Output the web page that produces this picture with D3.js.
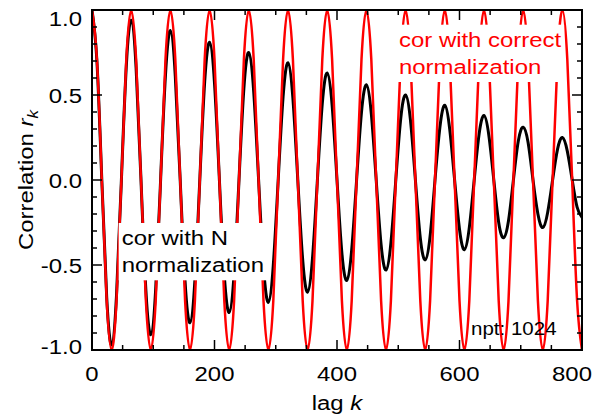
<!DOCTYPE html>
<html>
<head>
<meta charset="utf-8">
<script src="https://cdn.jsdelivr.net/npm/d3@7"></script>
<style>
  body { margin: 0; background: #fff; }
  text { font-family: "Liberation Sans", Arial, sans-serif; }
</style>
</head>
<body>
<div id="chart"></div>
<script>
// lag k (every 8 samples)
var lags = [
  0, 8, 16, 24, 32, 40, 48, 56, 64, 72, 80, 88, 96, 104, 112, 120,
  128, 136, 144, 152, 160, 168, 176, 184, 192, 200, 208, 216, 224, 232, 240, 248,
  256, 264, 272, 280, 288, 296, 304, 312, 320, 328, 336, 344, 352, 360, 368, 376,
  384, 392, 400, 408, 416, 424, 432, 440, 448, 456, 464, 472, 480, 488, 496, 504,
  512, 520, 528, 536, 544, 552, 560, 568, 576, 584, 592, 600, 608, 616, 624, 632,
  640, 648, 656, 664, 672, 680, 688, 696, 704, 712, 720, 728, 736, 744, 752, 760,
  768, 776, 784, 792, 800
]

// correlation, correct normalization (red)
var corCorrect = [
  1, .71, 0, -.71, -1, -.71, 0, .71,
  1, .71, 0, -.71, -1, -.71, 0, .71,
  1, .71, 0, -.71, -1, -.71, 0, .71,
  1, .71, 0, -.71, -1, -.71, 0, .71,
  1, .71, 0, -.71, -1, -.71, 0, .71,
  1, .71, 0, -.71, -1, -.71, 0, .71,
  1, .71, 0, -.71, -1, -.71, 0, .71,
  1, .71, 0, -.71, -1, -.71, 0, .71,
  1, .71, 0, -.71, -1, -.71, 0, .71,
  1, .71, 0, -.71, -1, -.71, 0, .71,
  1, .71, 0, -.71, -1, -.71, 0, .71,
  1, .71, 0, -.71, -1, -.71, 0, .71,
  1, .71, 0, -.71, -1
]

// correlation, N normalization (black)
var corN = [
  1, .70, 0, -.69, -.97, -.68, 0, .67,
  .94, .66, 0, -.65, -.91, -.64, 0, .62,
  .88, .61, 0, -.60, -.84, -.59, 0, .58,
  .81, .57, 0, -.56, -.78, -.55, 0, .54,
  .75, .52, 0, -.51, -.72, -.50, 0, .49,
  .69, .48, 0, -.47, -.66, -.46, 0, .45,
  .63, .44, 0, -.43, -.59, -.41, 0, .40,
  .56, .39, 0, -.38, -.53, -.37, 0, .36,
  .50, .35, 0, -.34, -.47, -.33, 0, .31,
  .44, .30, 0, -.29, -.41, -.28, 0, .27,
  .38, .26, 0, -.25, -.34, -.24, 0, .23,
  .31, .22, 0, -.20, -.28, -.19, 0, .18,
  .25, .17, 0, -.16, -.22
]

var xTicks = [0, 200, 400, 600, 800]
var yTicks = [-1.0, -0.5, 0.0, 0.5, 1.0]

var W = 602, H = 417
var mLeft = 92, mRight = 582, mTop = 10, mBottom = 350
var SX = 1.14   // widen glyphs a bit

var x = d3.scaleLinear().domain([0, 800]).range([mLeft, mRight])
var y = d3.scaleLinear().domain([-1, 1]).range([mBottom, mTop])

var svg = d3.select('#chart').append('svg')
    .attr('width', W).attr('height', H)

svg.append('defs').append('clipPath').attr('id', 'clip')
  .append('rect')
    .attr('x', mLeft).attr('y', mTop)
    .attr('width', mRight - mLeft).attr('height', mBottom - mTop)

function addText(parent, tx, ty, str, size, anchor, rot) {
    var t = parent.append('text')
        .attr('transform', `translate(${tx},${ty})` + (rot ? ` rotate(${rot})` : '') + ` scale(${SX},1)`)
        .attr('font-size', size)
        .attr('text-anchor', anchor || 'start')
    if (str != null) t.text(str)
    return t
}

// curves
var plot = svg.append('g').attr('clip-path', 'url(#clip)')

var line = function(vals) {
    return d3.line()
        .x((d, i) => x(lags[i]))
        .y(d => y(d))
        .curve(d3.curveNatural)(vals)
}

plot.append('path')
    .attr('d', line(corN))
    .attr('fill', 'none')
    .attr('stroke', '#000')
    .attr('stroke-width', 3)

plot.append('path')
    .attr('d', line(corCorrect))
    .attr('fill', 'none')
    .attr('stroke', '#ff0000')
    .attr('stroke-width', 2.5)

// frame and ticks
var axes = svg.append('g').attr('stroke', '#000')

axes.append('rect')
    .attr('x', mLeft).attr('y', mTop)
    .attr('width', mRight - mLeft).attr('height', mBottom - mTop)
    .attr('fill', 'none')
    .attr('stroke-width', 2)

d3.range(0, 801, 50).forEach(v => {
    var len = v % 200 == 0 ? 10 : 5
    axes.append('line').attr('x1', x(v)).attr('x2', x(v))
        .attr('y1', mBottom).attr('y2', mBottom - len).attr('stroke-width', 1.5)
    axes.append('line').attr('x1', x(v)).attr('x2', x(v))
        .attr('y1', mTop).attr('y2', mTop + len).attr('stroke-width', 1.5)
})

d3.range(-10, 11).forEach(i => {
    var v = i / 10
    var len = i % 5 == 0 ? 10 : 5
    axes.append('line').attr('y1', y(v)).attr('y2', y(v))
        .attr('x1', mLeft).attr('x2', mLeft + len).attr('stroke-width', 1.5)
    axes.append('line').attr('y1', y(v)).attr('y2', y(v))
        .attr('x1', mRight).attr('x2', mRight - len).attr('stroke-width', 1.5)
})

// tick labels
xTicks.forEach((v, i) => {
    var px = x(v)
    if (i == xTicks.length - 1) px -= 10
    addText(svg, px, 381, String(v), 21, 'middle')
})

yTicks.forEach((v, i) => {
    var py = y(v) + 8
    if (i == yTicks.length - 1) py = mTop + 16
    if (i == 0) py = mBottom + 4
    addText(svg, 82, py, v.toFixed(1), 21, 'end')
})

// axis titles
var xt = addText(svg, 337, 410, null, 21, 'middle')
xt.append('tspan').text('lag ')
xt.append('tspan').attr('font-style', 'italic').text('k')

var yt = addText(svg, 33, 180, null, 21, 'middle', -90)
yt.append('tspan').text('Correlation ')
yt.append('tspan').attr('font-style', 'italic').text('r')
yt.append('tspan').attr('font-style', 'italic').attr('font-size', 15).attr('dy', 5).text('k')

// labels with white boxes
function label(tx, ty, lines, color) {
    var g = svg.append('g').attr('transform', `translate(${tx},${ty}) scale(${SX},1)`)
    var box = g.append('rect').attr('fill', '#fff')
    var w = 0
    lines.forEach((s, i) => {
        var t = g.append('text').attr('x', 0).attr('y', i * 27.3)
            .attr('font-size', 21).attr('fill', color).text(s)
        w = Math.max(w, t.node().getComputedTextLength())
    })
    box.attr('x', -3 / SX).attr('y', -22)
        .attr('width', w + 6 / SX).attr('height', 27.3 * (lines.length - 1) + 30)
}

label(399, 46.7, ['cor with correct', 'normalization'], '#ff0000')
label(121.7, 245, ['cor with N', 'normalization'], '#000')

addText(svg, 471, 335, 'npt: 1024', 18, 'start')
</script>
</body>
</html>
